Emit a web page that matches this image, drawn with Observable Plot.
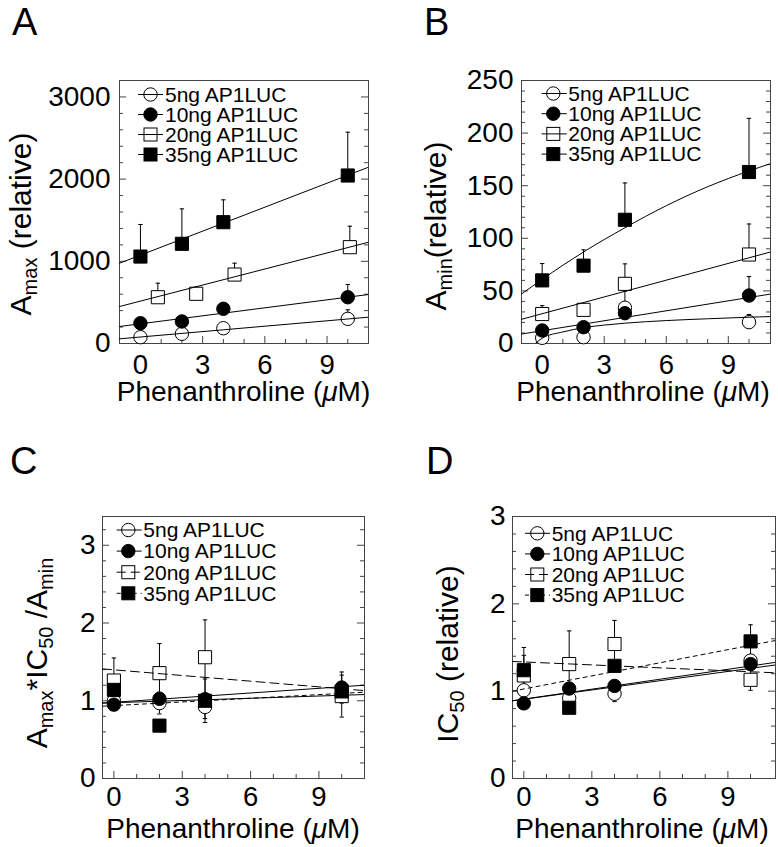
<!DOCTYPE html>
<html><head><meta charset="utf-8">
<script src="https://cdn.jsdelivr.net/npm/d3@7"></script>
<script src="https://cdn.jsdelivr.net/npm/@observablehq/plot@0.6"></script>
<style>
body{margin:0;background:#fff;}
#root{position:relative;width:778px;height:847px;font-family:"Liberation Sans",Arial,Helvetica,sans-serif;}
.panel{position:absolute;}
</style></head><body><div id="root"></div>
<script>
// ---------- shared ----------
const seriesNames = ["5ng AP1LUC", "10ng AP1LUC", "20ng AP1LUC", "35ng AP1LUC"];
const doseX = [0, 2, 4, 10];
const xTickLabels = [0, 3, 6, 9];
const xMinorTicks = [1, 2, 4, 5, 7, 8, 10];

// ---------- Panel A : Amax (relative) ----------
const aX20 = [0.84, 2.69, 4.54, 10.1];
const aAmax5 = [77, 118, 186, 300];
const aAmax5Err = [0, 0, 54, 110];
const aAmax10 = [247, 268, 422, 563];
const aAmax10Err = [30, 30, 40, 155];
const aAmax20 = [563, 605, 839, 1172];
const aAmax20Err = [171, 80, 138, 255];
const aAmax35 = [1058, 1213, 1476, 2044];
const aAmax35Err = [390, 425, 272, 527];
const aFitX = [-1.01, 11.0];
const aFit5 = [57, 320];
const aFit10 = [207, 596];
const aFit20 = [450, 1232];
const aFit35 = [977, 2145];
const aYTicks = [0, 1000, 2000, 3000];

// ---------- Panel B : Amin (relative) ----------
const bAmin5 = [5.4, 6, 34, 20.3];
const bAmin5Err = [0, 0, 3.5, 7.3];
const bAmin10 = [12.4, 15.5, 28.8, 45.6];
const bAmin10Err = [2, 2, 21, 18];
const bAmin20 = [28, 32, 56.7, 84.6];
const bAmin20Err = [8, 6, 19, 29];
const bAmin35 = [60, 74, 117.6, 163];
const bAmin35Err = [16, 15, 35, 51];
const bFit5X = [-0.45, 0, 1, 2, 3, 4, 6, 8, 10, 11.04];
const bFit5 = [-2, 5, 11, 15, 17.5, 19.3, 21.8, 23.5, 25, 25.6];
const bFitLinX = [-1, 11.04];
const bFit10 = [9, 47];
const bFit20 = [23, 87];
const bFit35X = [-1, 0, 2, 4, 6, 8, 10, 11.04];
const bFit35 = [47, 61, 87, 110, 131, 149, 164, 171];
const bYTicks = [0, 50, 100, 150, 200, 250];

// ---------- Panel C : Amax*IC50/Amin ----------
const cRatio5 = [1.0, 0.97, 0.92, 1.07];
const cRatio5Err = [0.04, 0.14, 0.15, 0.05];
const cRatio10 = [0.95, 1.025, 1.02, 1.17];
const cRatio10Err = [0.03, 0.04, 0.04, 0.2];
const cRatio20 = [1.26, 1.355, 1.56, 1.06];
const cRatio20Err = [0.29, 0.38, 0.48, 0.27];
const cRatio35 = [1.14, 0.68, 1.0, 1.12];
const cRatio35Err = [0.05, 0.04, 0.28, 0.05];
const cFitX = [-0.5, 11];
const cFit5 = [0.97, 1.08];
const cFit10 = [0.97, 1.2];
const cFit20 = [1.41, 1.13];
const cFit35 = [0.93, 1.11];
const cYTicks = [0, 1, 2, 3];

// ---------- Panel D : IC50 (relative) ----------
const dIC5 = [1.01, 0.92, 0.97, 1.35];
const dIC5Err = [0.03, 0.05, 0.09, 0.05];
const dIC10 = [0.86, 1.03, 1.06, 1.31];
const dIC10Err = [0.03, 0.03, 0.03, 0.05];
const dIC20 = [1.18, 1.31, 1.54, 1.13];
const dIC20Err = [0.32, 0.38, 0.27, 0.12];
const dIC35 = [1.24, 0.81, 1.29, 1.57];
const dIC35Err = [0.17, 0.05, 0.05, 0.19];
const dFitX = [-0.5, 11.1];
const dFit5 = [0.89, 1.33];
const dFit10 = [0.89, 1.30];
const dFit20 = [1.34, 1.21];
const dFit35 = [1.0, 1.58];
const dYTicks = [0, 1, 2, 3];

// ---------- styling ----------
const symbols = ["circle", "circle", "square", "square"];
const fills = ["white", "black", "white", "black"];
const FONT = '"Liberation Sans", Arial, Helvetica, sans-serif';
const capSymbol = {draw(ctx, size) { const r = Math.sqrt(size / Math.PI); ctx.moveTo(-r, 0); ctx.lineTo(r, 0); }};

const panels = [
  {letter: "A", left: 0, top: 0, width: 389, height: 420, ml: 119, mr: 21, mt: 80, mb: 77,
   xDomain: [-1.01, 11.0], yDomain: [0, 3200], yTicks: aYTicks, yMinor: d3.range(200, 3200, 200).filter(v => v % 1000),
   xPad: 11, yPad: 9, twoSided: false,
   series: [[doseX, aAmax5, aAmax5Err], [doseX, aAmax10, aAmax10Err], [aX20, aAmax20, aAmax20Err], [doseX, aAmax35, aAmax35Err]],
   fits: [[aFitX, aFit5], [aFitX, aFit10], [aFitX, aFit20], [aFitX, aFit35]],
   dashes: [null, null, null, null],
   legend: {x1: 138, x2: 163, xs: 150.5, xt: 165, y0: 94.5, dy: 20},
   ytitle: {x: 31, y: 224, parts: [["A", 0], ["max", 1], [" (relative)", 0]]},
   xtitle: {x: 243.5, y: 401}, letterPos: {x: 12, y: 35}},
  {letter: "B", left: 389, top: 0, width: 389, height: 420, ml: 132, mr: 8, mt: 80, mb: 77,
   xDomain: [-1, 11.04], yDomain: [0, 250], yTicks: bYTicks, yMinor: d3.range(10, 250, 10).filter(v => v % 50),
   xPad: 11, yPad: 8, twoSided: false,
   series: [[doseX, bAmin5, bAmin5Err], [doseX, bAmin10, bAmin10Err], [doseX, bAmin20, bAmin20Err], [doseX, bAmin35, bAmin35Err]],
   fits: [[bFit5X, bFit5], [bFitLinX, bFit10], [bFitLinX, bFit20], [bFit35X, bFit35]],
   dashes: [null, null, null, null],
   legend: {x1: 152.7, x2: 177.7, xs: 164.3, xt: 179.3, y0: 93.5, dy: 20.2},
   ytitle: {x: 57, y: 226, parts: [["A", 0], ["min", 1], ["(relative)", 0]]},
   xtitle: {x: 254, y: 401}, letterPos: {x: 35, y: 35}},
  {letter: "C", left: 0, top: 420, width: 389, height: 427, ml: 102, mr: 25, mt: 96, mb: 69,
   xDomain: [-0.5, 11], yDomain: [0, 3.37], yTicks: cYTicks, yMinor: d3.range(1, 17).map(k => k * 0.2).filter(v => Math.abs(v - Math.round(v)) > 1e-6),
   xPad: 8, yPad: 7, twoSided: true,
   series: [[doseX, cRatio5, cRatio5Err], [doseX, cRatio10, cRatio10Err], [doseX, cRatio20, cRatio20Err], [doseX, cRatio35, cRatio35Err]],
   fits: [[cFitX, cFit5], [cFitX, cFit10], [cFitX, cFit20], [cFitX, cFit35]],
   dashes: [null, null, "9,5", "4,4"],
   legend: {x1: 116.7, x2: 141.7, xs: 128.3, xt: 143.3, y0: 110, dy: 21.1},
   ytitle: {x: 47, y: 233, parts: [["A", 0], ["max", 1], ["*IC", 0], ["50", 1], [" /A", 0], ["min", 1]]},
   xtitle: {x: 233, y: 418}, letterPos: {x: 10, y: 54}},
  {letter: "D", left: 389, top: 420, width: 389, height: 427, ml: 123, mr: 3, mt: 96, mb: 69,
   xDomain: [-0.5, 11.1], yDomain: [0, 3], yTicks: dYTicks, yMinor: d3.range(1, 15).map(k => k * 0.2).filter(v => Math.abs(v - Math.round(v)) > 1e-6),
   xPad: 8, yPad: 7, twoSided: true,
   series: [[doseX, dIC5, dIC5Err], [doseX, dIC10, dIC10Err], [doseX, dIC20, dIC20Err], [doseX, dIC35, dIC35Err]],
   fits: [[dFitX, dFit5], [dFitX, dFit10], [dFitX, dFit20], [dFitX, dFit35]],
   dashes: [null, null, "9,5", "4,4"],
   legend: {x1: 136, x2: 161, xs: 148.3, xt: 162.7, y0: 113.3, dy: 20.6},
   ytitle: {x: 69, y: 234, parts: [["IC", 0], ["50", 1], [" (relative)", 0]]},
   xtitle: {x: 253, y: 418}, letterPos: {x: 37, y: 54}}
];

const root = document.getElementById("root");
const fmt = d => String(d);

for (const p of panels) {
  const fw = p.width - p.ml - p.mr, fh = p.height - p.mt - p.mb;
  const rows = [];
  p.series.forEach(([xs, ys, errs], s) => {
    xs.forEach((x, i) => rows.push({s, x, y: ys[i],
      lo: p.twoSided ? ys[i] - errs[i] : ys[i], hi: ys[i] + errs[i], e: errs[i]}));
  });
  const bars = rows.filter(r => r.e > 0);
  const lines = [];
  p.fits.forEach(([fx, fy], s) => fx.forEach((x, i) => lines.push({s, x, y: fy[i]})));

  const marks = [
    Plot.frame({stroke: "#444", strokeWidth: 1}),
    Plot.tickX(xTickLabels, {x: d => d, insetTop: fh - 7, stroke: "#444"}),
    Plot.tickX(xMinorTicks, {x: d => d, insetTop: fh - 4, stroke: "#444"}),
    Plot.tickY(p.yTicks, {y: d => d, insetRight: fw - 7, stroke: "#444"}),
    Plot.tickY(p.yTicks, {y: d => d, insetLeft: fw - 7, stroke: "#444"}),
    Plot.tickY(p.yMinor, {y: d => d, insetRight: fw - 4, stroke: "#444"}),
    Plot.tickY(p.yMinor, {y: d => d, insetLeft: fw - 4, stroke: "#444"}),
    Plot.axisX(xTickLabels, {tickSize: 0, tickPadding: p.xPad, fontSize: 27.5, label: null, tickFormat: fmt}),
    Plot.axisY(p.yTicks, {tickSize: 0, tickPadding: p.yPad, fontSize: 28, label: null, tickFormat: fmt}),
    Plot.ruleX(bars, {x: "x", y1: "lo", y2: "hi", stroke: "black", strokeWidth: 1}),
    Plot.dot(bars, {x: "x", y: "hi", symbol: capSymbol, r: 2.2, fill: "none", stroke: "black", strokeWidth: 1}),
    ...(p.twoSided ? [Plot.dot(bars, {x: "x", y: "lo", symbol: capSymbol, r: 2.2, fill: "none", stroke: "black", strokeWidth: 1})] : [])
  ];
  [0, 1, 2, 3].forEach(s => {
    marks.push(Plot.dot(rows.filter(r => r.s === s), {x: "x", y: "y", symbol: symbols[s],
      r: symbols[s] === "circle" ? 6.7 : 7.4, fill: fills[s], stroke: "black", strokeWidth: 1}));
  });
  [0, 1, 2, 3].forEach(s => {
    marks.push(Plot.line(lines.filter(r => r.s === s), {x: "x", y: "y", stroke: "black", strokeWidth: 1,
      strokeDasharray: p.dashes[s] || undefined, curve: "monotone-x", clip: true}));
  });

  const svg = Plot.plot({
    width: p.width, height: p.height,
    marginLeft: p.ml, marginRight: p.mr, marginTop: p.mt, marginBottom: p.mb,
    x: {domain: p.xDomain, axis: null},
    y: {domain: p.yDomain, axis: null},
    style: {fontFamily: FONT, fontSize: "28px", color: "#000", background: "white", overflow: "visible"},
    marks
  });

  const g = d3.select(svg).append("g").attr("font-family", FONT).attr("fill", "#000").attr("text-anchor", "start");
  // legend
  const L = p.legend;
  p.series.forEach((_, s) => {
    const cy = L.y0 + s * L.dy;
    if (symbols[s] === "circle") {
      g.append("circle").attr("cx", L.xs).attr("cy", cy).attr("r", 6.7)
        .attr("fill", fills[s]).attr("stroke", "#000");
    } else {
      g.append("rect").attr("x", L.xs - 6.5).attr("y", cy - 6.5).attr("width", 13).attr("height", 13)
        .attr("fill", fills[s]).attr("stroke", "#000");
    }
    g.append("line").attr("x1", L.x1).attr("x2", L.x2).attr("y1", cy).attr("y2", cy)
      .attr("stroke", "#000").attr("stroke-width", 1).attr("stroke-dasharray", p.dashes[s]);
    g.append("text").attr("x", L.xt).attr("y", cy).attr("dy", "0.35em").attr("font-size", 21)
      .attr("text-anchor", "start").text(seriesNames[s]);
  });
  // y title
  const yt = g.append("text").attr("transform", `translate(${p.ytitle.x},${p.ytitle.y}) rotate(-90)`)
    .attr("text-anchor", "middle").attr("font-size", 30);
  let shifted = false;
  p.ytitle.parts.forEach(([txt, sub]) => {
    const ts = yt.append("tspan").text(txt).attr("font-size", sub ? 20 : 30);
    if (sub && !shifted) { ts.attr("dy", 6); shifted = true; }
    else if (!sub && shifted) { ts.attr("dy", -6); shifted = false; }
  });
  // x title
  const xt = g.append("text").attr("x", p.xtitle.x).attr("y", p.xtitle.y).attr("text-anchor", "middle").attr("font-size", 28);
  xt.append("tspan").text("Phenanthroline (");
  xt.append("tspan").attr("font-style", "italic").text("\u03BC");
  xt.append("tspan").text("M)");
  // panel letter
  g.append("text").attr("x", p.letterPos.x).attr("y", p.letterPos.y).attr("font-size", 38)
    .attr("text-anchor", "start").text(p.letter);

  const div = document.createElement("div");
  div.className = "panel";
  div.style.left = p.left + "px";
  div.style.top = p.top + "px";
  div.appendChild(svg);
  root.appendChild(div);
}
</script>
</body></html>
